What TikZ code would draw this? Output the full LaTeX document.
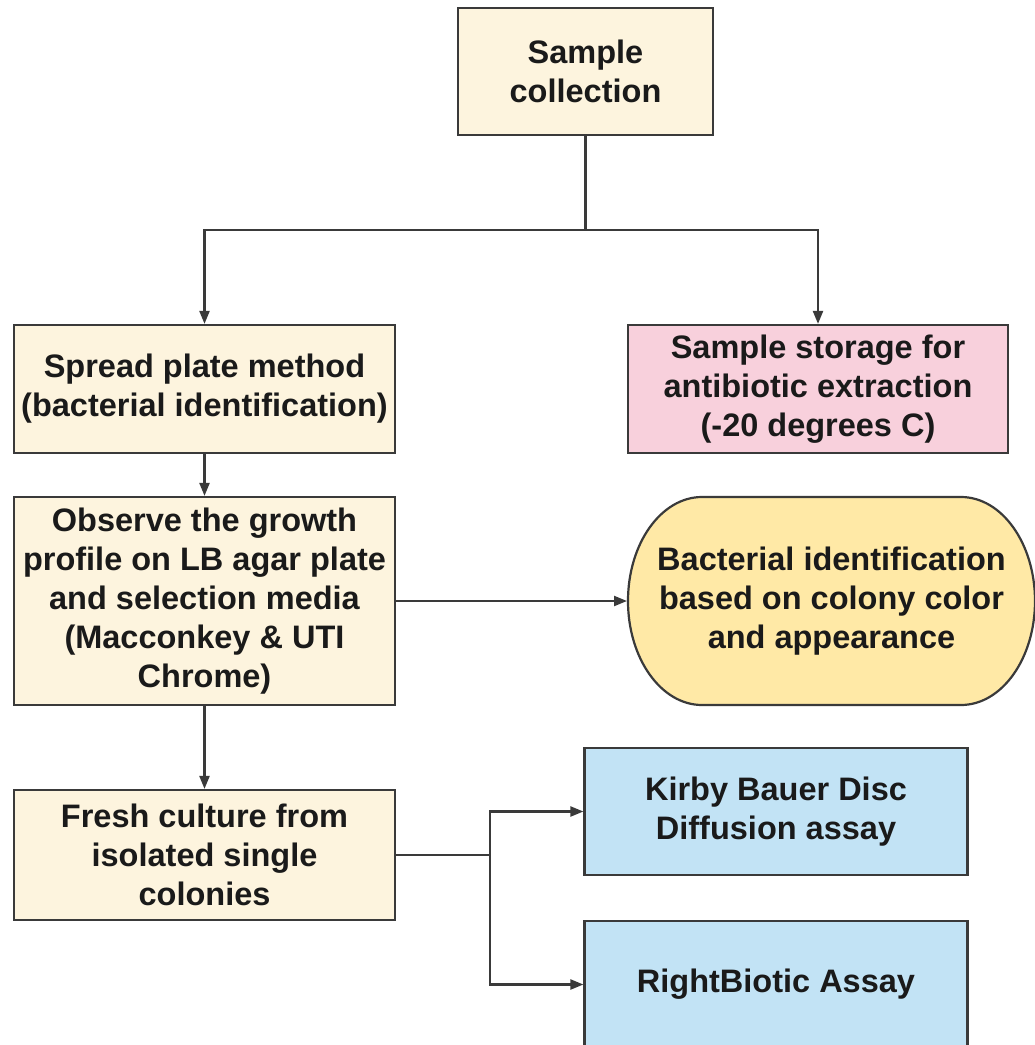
\documentclass[tikz,border=0pt]{standalone}
\usepackage{fontspec}
\setmainfont{Liberation Sans}
\usetikzlibrary{arrows.meta,backgrounds}
\definecolor{cream}{HTML}{FDF4DE}
\definecolor{pinkfill}{HTML}{F8D0DC}
\definecolor{yelfill}{HTML}{FFE9A6}
\definecolor{bluefill}{HTML}{C2E3F5}
\definecolor{edge}{HTML}{3A3A3A}
\definecolor{txt}{HTML}{1A1A1A}
\tikzset{
  box/.style={draw=edge, line width=2.2pt, rectangle, align=center, inner sep=0pt,
    font=\bfseries\fontsize{32.5}{39}\selectfont, text=txt},
  creambox/.style={box, fill=cream},
  pinkbox/.style={box, fill=pinkfill},
  bluebox/.style={box, fill=bluefill},
  conn/.style={draw=edge, line width=2.2pt},
  arr/.style={conn, -{Triangle[length=13pt,width=10pt]}},
}
\begin{document}
\begin{tikzpicture}[x=1pt,y=-1pt]
\useasboundingbox (0,0) rectangle (1035,1045);
\clip (0,0) rectangle (1035,1045);

\node[creambox, minimum width=255pt, minimum height=127pt] (sc) at (585.5,71.5) {Sample\\collection};
\node[creambox, minimum width=381pt, minimum height=128pt] (spread) at (204.5,389) {Spread plate method\\(bacterial identification)};
\node[pinkbox, minimum width=380pt, minimum height=128pt] (store) at (818,389) {Sample storage for\\antibiotic extraction\\(-20 degrees C)};
\node[creambox, minimum width=381pt, minimum height=208pt] (obs) at (204.5,601) {Observe the growth\\profile on LB agar plate\\and selection media\\(Macconkey \& UTI\\Chrome)};
\node[box, draw=none, outer sep=0pt, minimum width=407pt, minimum height=208pt] (bid) at (831.5,601) {Bacterial identification\\based on colony color\\and appearance};
\begin{scope}[on background layer]
\draw[draw=edge, line width=2.2pt, fill=yelfill, line join=round]
  ([xshift=74pt]bid.north west) -- ([xshift=-74pt]bid.north east)
  arc[start angle=90, end angle=-90, x radius=74pt, y radius=104pt]
  -- ([xshift=74pt]bid.south west)
  arc[start angle=270, end angle=90, x radius=74pt, y radius=104pt] -- cycle;
\end{scope}
\node[creambox, minimum width=381pt, minimum height=130pt] (fresh) at (204.5,855) {Fresh culture from\\isolated single\\colonies};
\node[bluebox, minimum width=383pt, minimum height=127pt] (kb) at (776,811.5) {Kirby Bauer Disc\\Diffusion assay};
\node[bluebox, minimum width=383pt, minimum height=127pt] (rb) at (776,984.5) {RightBiotic Assay};

\coordinate (split) at (sc.south |- 0,230);
\draw[conn] (sc.south) -- (split);
\draw[arr] (split) -| (spread.north);
\draw[arr] (split) -| (store.north);
\draw[arr] (spread.south) -- (obs.north);
\draw[arr] (obs.east) -- ([xshift=-1pt]bid.west);
\draw[arr] (obs.south) -- (fresh.north);
\coordinate (fork) at (490,855);
\draw[conn] (fresh.east) -- (fork);
\draw[arr] (fork) |- (kb.west);
\draw[arr] (fork) |- (rb.west);
\end{tikzpicture}
\end{document}
